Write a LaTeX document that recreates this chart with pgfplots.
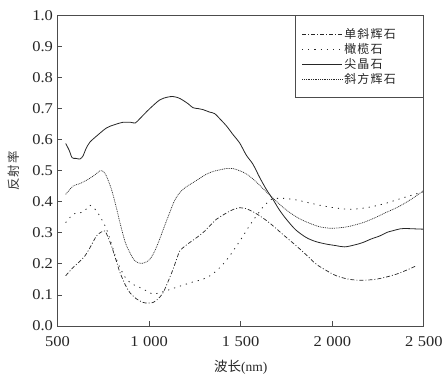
\documentclass[border=0pt]{standalone}
\usepackage{pgfplots}
\pgfplotsset{compat=1.18}
\usepackage{fontspec}
\setmainfont{Liberation Serif}
\newfontfamily\tickfont[FakeStretch=1.1]{Liberation Serif}
\newfontfamily\cjk{Noto Sans CJK SC}
\newfontfamily\cjkl[LetterSpace=10]{Noto Sans CJK SC}
\begin{document}
\begin{tikzpicture}
\begin{axis}[
  scale only axis,
  width=367pt, height=311pt,
  xmin=500, xmax=2500, ymin=0, ymax=1,
  xtick={500,1000,1500,2000,2500},
  ytick={0,0.1,...,1.0},
  xtick pos=bottom, ytick pos=left,
  tick align=inside,
  major tick length=5pt,
  axis line style={black!70, line width=1pt},
  every tick/.style={black!70, line width=1pt},
  /pgf/number format/assume math mode=true,
  x tick label style={yshift=-7pt, /pgf/number format/.cd, 1000 sep={\kern0.3em}},
  y tick label style={xshift=-1pt, /pgf/number format/.cd, fixed, fixed zerofill, precision=1},
  tick label style={font=\tickfont\fontsize{15}{17}\selectfont, text=black!85},
  xlabel={{\cjk 波长}(nm)},
  ylabel={\cjkl 反射率},
  xlabel style={at={([yshift=-41pt]axis description cs:0.5,0)}, anchor=center, font=\fontsize{13.5}{15}\selectfont, text=black!85},
  ylabel style={at={([xshift=-43.5pt]axis description cs:0,0.5)}, anchor=center, font=\fontsize{12.5}{13}\selectfont, text=black!80},
  legend cell align=left,
  legend image code/.code={\draw[#1] (0pt,0pt) -- (40pt,0pt);},
  legend style={at={(1,1)}, anchor=north east, draw=black!70, line width=0.8pt, font=\cjkl\fontsize{12}{14}\selectfont, text=black!85, inner xsep=6pt, inner ysep=10.5pt, row sep=0pt, nodes={inner sep=1.8pt}},
]
\addplot[black!85, line width=0.7pt, dash pattern=on 4pt off 2pt on 1pt off 2pt, smooth] coordinates {
(545,0.162)(586,0.189)(620,0.207)(650,0.226)(680,0.255)(713,0.290)(740,0.303)(759,0.306)(777,0.285)(795,0.258)(820,0.212)(841,0.173)(870,0.133)(895,0.108)(930,0.088)(968,0.076)(995,0.074)(1022,0.076)(1050,0.088)(1077,0.108)(1105,0.145)(1131,0.183)(1150,0.215)(1168,0.242)(1195,0.257)(1222,0.269)(1260,0.285)(1295,0.301)(1330,0.322)(1368,0.344)(1405,0.358)(1440,0.370)(1470,0.378)(1495,0.381)(1530,0.378)(1567,0.368)(1604,0.355)(1640,0.340)(1676,0.323)(1740,0.290)(1804,0.258)(1860,0.228)(1913,0.199)(1970,0.178)(2022,0.162)(2080,0.152)(2131,0.148)(2185,0.148)(2240,0.151)(2295,0.158)(2349,0.167)(2405,0.180)(2458,0.194)
};
\addlegendentry{单斜辉石\hspace*{20pt}}
\addplot[black!85, line width=0.8pt, dash pattern=on 1.2pt off 5pt, smooth] coordinates {
(545,0.333)(586,0.360)(632,0.366)(660,0.378)(677,0.389)(695,0.382)(713,0.371)(740,0.345)(768,0.312)(795,0.265)(822,0.215)(850,0.178)(877,0.151)(910,0.135)(950,0.124)(990,0.112)(1022,0.103)(1060,0.108)(1095,0.114)(1140,0.123)(1186,0.132)(1240,0.142)(1295,0.151)(1335,0.163)(1368,0.178)(1405,0.200)(1440,0.226)(1477,0.258)(1513,0.290)(1550,0.325)(1586,0.355)(1620,0.382)(1650,0.400)(1676,0.410)(1740,0.411)(1804,0.406)(1880,0.396)(1949,0.387)(2020,0.380)(2094,0.376)(2160,0.379)(2221,0.385)(2290,0.395)(2349,0.406)(2420,0.419)(2495,0.432)
};
\addlegendentry{橄榄石}
\addplot[black!85, line width=0.8pt, smooth] coordinates {
(545,0.588)(565,0.565)(580,0.542)(600,0.540)(623,0.538)(640,0.548)(655,0.570)(677,0.592)(720,0.615)(768,0.638)(810,0.648)(857,0.656)(900,0.656)(925,0.654)(950,0.668)(1000,0.698)(1058,0.728)(1100,0.737)(1130,0.739)(1160,0.735)(1185,0.727)(1215,0.715)(1240,0.703)(1270,0.700)(1294,0.697)(1330,0.689)(1358,0.684)(1390,0.665)(1423,0.644)(1460,0.615)(1494,0.590)(1531,0.550)(1567,0.521)(1604,0.478)(1640,0.440)(1676,0.408)(1710,0.375)(1749,0.344)(1800,0.310)(1858,0.285)(1910,0.272)(1967,0.264)(2020,0.259)(2067,0.255)(2120,0.261)(2167,0.269)(2210,0.280)(2258,0.290)(2300,0.302)(2330,0.307)(2370,0.313)(2403,0.314)(2450,0.313)(2495,0.312)
};
\addlegendentry{尖晶石}
\addplot[black!85, line width=0.7pt, dash pattern=on 0.9pt off 0.9pt, smooth] coordinates {
(545,0.424)(586,0.451)(620,0.458)(660,0.470)(700,0.485)(732,0.500)(745,0.500)(765,0.486)(795,0.440)(820,0.385)(841,0.333)(870,0.270)(895,0.237)(920,0.212)(950,0.202)(980,0.205)(1004,0.215)(1030,0.240)(1058,0.280)(1085,0.323)(1113,0.366)(1140,0.405)(1168,0.430)(1200,0.447)(1240,0.462)(1280,0.477)(1313,0.489)(1350,0.498)(1386,0.503)(1420,0.507)(1458,0.507)(1495,0.500)(1531,0.490)(1570,0.472)(1604,0.453)(1640,0.432)(1676,0.412)(1720,0.388)(1767,0.366)(1820,0.346)(1876,0.331)(1930,0.320)(1985,0.315)(2030,0.316)(2076,0.319)(2120,0.325)(2167,0.333)(2230,0.348)(2294,0.366)(2340,0.378)(2385,0.392)(2440,0.412)(2495,0.435)
};
\addlegendentry{斜方辉石}
\end{axis}
\path (current axis.south west) ++(-57.5pt,-56pt) rectangle ([shift={(21.5pt,15.5pt)}]current axis.north east);
\end{tikzpicture}
\end{document}
